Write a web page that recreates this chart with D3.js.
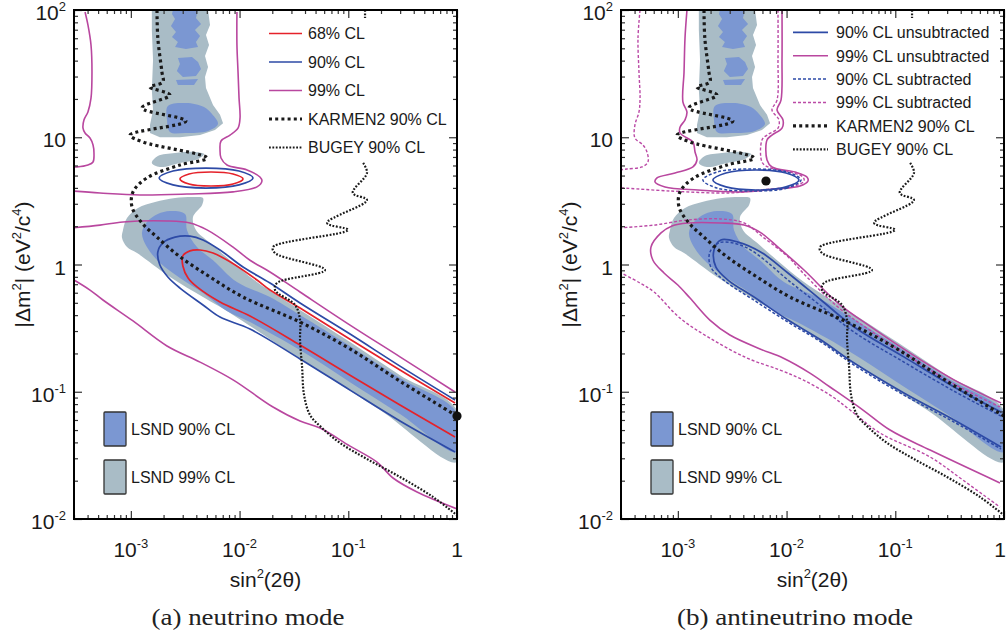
<!DOCTYPE html>
<html>
<head>
<meta charset="utf-8">
<script src="https://cdn.jsdelivr.net/npm/d3@7"></script>
<style>
  body { margin: 0; background: #fff; }
  svg { display: block; font-family: "Liberation Sans", Arial, sans-serif; }
</style>
</head>
<body>
<svg id="chart" width="1007" height="641"></svg>
<script>
// axes
const xDomain = [3e-4, 1];
const yDomain = [1e-2, 1e2];
const xTicks = [1e-3, 1e-2, 1e-1, 1];
const yTicks = [1e-2, 1e-1, 1, 10, 100];
const xTickLabels = [["10", "-3"], ["10", "-2"], ["10", "-1"], ["1", ""]];
const yTickLabels = [["10", "-2"], ["10", "-1"], ["1", ""], ["10", ""], ["10", "2"]];

// LSND allowed regions  [sin^2(2theta), dm^2]
const lsnd99Upper = [[1.56e-3,100],[5.13e-3,100],[5.35e-3,76.3],[4.91e-3,63.6],[5.24e-3,53.1],[4.81e-3,43.5],[5.13e-3,35.6],[4.81e-3,29.7],[4.91e-3,24.4],[5.70e-3,17.9],[6.61e-3,15.0],[7.05e-3,12.9],[5.94e-3,11.4],[4.33e-3,10.4],[2.83e-3,10.0],[1.85e-3,10.0],[1.50e-3,10.8],[1.50e-3,12.5],[1.60e-3,16.4],[1.56e-3,23.5],[1.60e-3,40.5],[1.56e-3,69.7]];
const lsnd99Blob = [[1.56e-3,6.28],[1.77e-3,7.12],[2.55e-3,7.52],[3.89e-3,7.66],[4.71e-3,7.38],[4.15e-3,6.75],[2.83e-3,6.28],[1.85e-3,5.84]];
const lsnd99Lower = [[8.47e-4,1.87],[9.22e-4,2.32],[1.164e-3,2.78],[1.67e-3,3.10],[2.55e-3,3.33],[3.89e-3,3.39],[4.61e-3,3.33],[4.52e-3,2.94],[3.73e-3,2.36],[3.97e-3,1.87],[5.35e-3,1.48],[8.17e-3,1.08],[0.01446,0.728],[0.036,0.439],[0.1038,0.246],[0.299,0.135],[1.0,0.0718],[1.0,0.028],[0.196,0.0718],[0.036,0.181],[8.17e-3,0.416],[4.61e-3,0.555],[2.29e-3,0.798],[1.14e-3,1.23],[9.22e-4,1.37],[8.29e-4,1.62]];
const lsnd90Top = [[2.44e-3,100],[4.15e-3,100],[3.97e-3,86.5],[4.42e-3,77.6],[3.89e-3,69.7],[4.33e-3,62.5],[3.97e-3,56.1],[4.15e-3,51.2],[3.21e-3,49.3],[2.55e-3,51.2],[2.71e-3,56.1],[2.39e-3,61.4],[2.60e-3,67.1],[2.34e-3,74.8],[2.55e-3,84.9],[2.39e-3,93.0]];
const lsnd90Mid = [[2.71e-3,42.0],[3.65e-3,42.7],[4.15e-3,39.0],[4.42e-3,34.4],[3.97e-3,30.3],[3.01e-3,29.7],[2.65e-3,33.2],[2.83e-3,37.7]];
const lsnd90Mid2 = [[2.60e-3,28.2],[4.15e-3,28.7],[3.81e-3,25.7],[2.71e-3,25.7]];
const lsnd90Upper = [[2.19e-3,17.6],[3.21e-3,18.6],[4.71e-3,17.3],[5.58e-3,15.2],[6.33e-3,12.7],[5.13e-3,11.2],[3.15e-3,10.8],[2.29e-3,11.0],[2.15e-3,13.7]];
const lsnd90Lower = [[1.406e-3,2.16],[1.77e-3,2.49],[2.29e-3,2.63],[3.15e-3,2.49],[3.28e-3,1.87],[4.06e-3,1.37],[5.70e-3,1.08],[9.46e-3,0.728],[0.01905,0.555],[0.036,0.401],[0.1038,0.229],[0.299,0.128],[1.0,0.0681],[1.0,0.0336],[0.299,0.0668],[0.1038,0.119],[0.036,0.213],[0.01247,0.353],[7.66e-3,0.431],[4.61e-3,0.597],[2.83e-3,0.783],[1.85e-3,1.03],[1.406e-3,1.37],[1.265e-3,1.77]];

// other experiments
const karmen = [[1.74e-3,100],[1.77e-3,60.3],[1.93e-3,32.6],[1.97e-3,27.2],[1.50e-3,24.8],[2.29e-3,21.5],[1.265e-3,17.0],[3.21e-3,13.4],[9.82e-4,10.4],[1.294e-3,9.18],[5.02e-3,6.87],[2.83e-3,6.05],[1.406e-3,4.79],[1.047e-3,3.72],[1.025e-3,2.83],[1.265e-3,2.12],[1.74e-3,1.64],[2.83e-3,1.15],[5.35e-3,0.798],[0.01076,0.555],[0.036,0.353],[0.1038,0.217],[0.299,0.121],[1.0,0.0644]];
const bugey = [[0.137,6.28],[0.1486,5.24],[0.110,3.65],[0.1486,3.21],[0.0638,2.12],[0.0995,1.87],[0.0203,1.37],[0.0212,1.23],[0.0611,0.905],[0.0221,0.715],[0.0212,0.630],[0.0324,0.481],[0.036,0.366],[0.036,0.255],[0.0376,0.156],[0.0392,0.0942],[0.0445,0.0656],[0.0574,0.0519],[0.084,0.0396],[0.1486,0.0296],[0.299,0.0214],[0.601,0.0149],[1.0,0.0107]];
const bugeyTop = [[0.1426,100],[0.1426,86.5]];

// (a) neutrino mode contours
const nu68Ellipse = [[0.01076,4.70],[8.71e-3,4.29],[5.46e-3,4.14],[3.43e-3,4.29],[2.83e-3,4.70],[3.43e-3,5.14],[5.46e-3,5.33],[8.71e-3,5.14]];
const nu68Band = [[0.959,0.0815],[0.299,0.148],[0.1038,0.259],[0.036,0.455],[0.01905,0.630],[0.01446,0.755],[8.17e-3,1.05],[5.70e-3,1.23],[4.33e-3,1.30],[3.50e-3,1.28],[3.01e-3,1.17],[3.01e-3,0.973],[3.36e-3,0.783],[4.06e-3,0.666],[6.61e-3,0.507],[0.01247,0.394],[0.036,0.233],[0.1038,0.135],[0.299,0.0787],[0.959,0.0441]];
const nu90Ellipse = [[0.0133,4.79],[9.89e-3,4.22],[4.91e-3,3.99],[2.44e-3,4.22],[1.82e-3,4.79],[2.44e-3,5.43],[4.91e-3,5.73],[9.89e-3,5.43]];
const nu90Band = [[0.959,0.0861],[0.299,0.159],[0.1038,0.284],[0.036,0.498],[0.01905,0.715],[0.01076,0.955],[6.61e-3,1.30],[4.61e-3,1.56],[3.50e-3,1.67],[2.55e-3,1.64],[1.97e-3,1.48],[1.77e-3,1.25],[1.85e-3,0.991],[2.19e-3,0.798],[2.83e-3,0.653],[4.61e-3,0.481],[6.61e-3,0.386],[0.01247,0.311],[0.036,0.181],[0.1038,0.103],[0.299,0.0589],[0.959,0.0336]];
const nu99Left = [[3.79e-4,96.4],[4.03e-4,76.3],[4.30e-4,53.1],[4.39e-4,32.6],[4.30e-4,20.3],[4.03e-4,15.8],[3.71e-4,13.7],[3.63e-4,11.8],[3.79e-4,10.8],[4.21e-4,9.86],[4.49e-4,8.69],[4.58e-4,7.52],[4.49e-4,6.39],[4.03e-4,6.05],[3.2e-4,5.84],[2.9e-4,5.84]];
const nu99Upper = [[9.46e-3,96.4],[9.46e-3,53.1],[9.68e-3,32.6],[9.89e-3,20.3],[0.0101,14.2],[9.68e-3,11.8],[8.17e-3,10.4],[6.75e-3,9.34],[6.61e-3,7.94],[6.75e-3,6.87],[7.66e-3,6.05],[0.01172,5.53],[0.0154,4.87],[0.01607,4.53],[0.01446,4.07],[8.71e-3,3.72],[3.28e-3,3.58],[1.213e-3,3.52],[5.2e-4,3.65],[2.9e-4,3.78]];
const nu99Band = [[2.9e-4,1.94],[5.2e-4,2.04],[8.47e-4,2.16],[2.15e-3,2.20],[3.50e-3,2.12],[5.02e-3,1.87],[8.71e-3,1.37],[0.01247,1.08],[0.01905,0.873],[0.036,0.608],[0.1038,0.334],[0.299,0.188],[0.959,0.0995]];
const nu99Low = [[2.9e-4,0.769],[4.21e-4,0.630],[5.54e-4,0.526],[1.047e-3,0.360],[2.15e-3,0.229],[4.33e-3,0.171],[8.71e-3,0.124],[0.0203,0.0759],[0.036,0.0589],[0.055,0.0519],[0.1038,0.0374],[0.1837,0.028],[0.258,0.021],[0.429,0.0163],[1.0,0.012]];
const nuBestFit = [1.0, 0.0644];

// (b) antineutrino mode contours
const nub90Ellipse = [[0.0130,4.61],[9.89e-3,4.07],[5.24e-3,3.85],[2.77e-3,4.07],[2.10e-3,4.61],[2.77e-3,5.24],[5.24e-3,5.53],[9.89e-3,5.24]];
const nub90Band = [[0.939,0.0693],[0.347,0.109],[0.120,0.188],[0.0418,0.323],[0.02075,0.526],[0.0103,0.857],[5.82e-3,1.25],[3.57e-3,1.50],[2.49e-3,1.56],[2.15e-3,1.30],[2.24e-3,0.955],[2.89e-3,0.755],[5.02e-3,0.555],[0.0103,0.366],[0.02075,0.255],[0.0418,0.168],[0.120,0.0977],[0.347,0.060],[0.939,0.0368]];
const nub90SubEllipse = [[0.01358,4.61],[0.0101,3.99],[4.81e-3,3.78],[2.29e-3,3.99],[1.70e-3,4.61],[2.29e-3,5.33],[4.81e-3,5.63],[0.0101,5.33]];
const nub90SubBand = [[0.939,0.0644],[0.347,0.101],[0.120,0.171],[0.0418,0.294],[0.02075,0.472],[0.0103,0.755],[6.33e-3,1.08],[4.33e-3,1.35],[3.15e-3,1.48],[2.39e-3,1.48],[1.97e-3,1.25],[2.01e-3,0.955],[2.71e-3,0.741],[4.81e-3,0.536],[0.0103,0.353],[0.02075,0.246],[0.0418,0.162],[0.120,0.0942],[0.347,0.0578],[0.939,0.0355]];
const nub99Upper = [[1.213e-3,100],[1.164e-3,60.3],[1.14e-3,32.6],[1.114e-3,18.9],[1.213e-3,15.8],[1.164e-3,13.7],[1.047e-3,12.0],[1.047e-3,10.8],[1.213e-3,9.86],[1.377e-3,9.18],[1.439e-3,7.66],[1.50e-3,6.63],[1.377e-3,5.84],[9.42e-4,5.24],[6.43e-4,4.79],[6.17e-4,4.45],[7.62e-4,4.07],[1.53e-3,3.85],[3.89e-3,3.72],[7.83e-3,3.92],[0.0133,4.14],[0.01574,4.53],[0.0154,4.87],[0.01197,5.33],[7.34e-3,5.84],[6.61e-3,6.63],[6.61e-3,9.51],[7.34e-3,10.4],[9.08e-3,11.8],[9.27e-3,13.7],[8.17e-3,16.4],[8.89e-3,19.6],[9.08e-3,40.5],[9.08e-3,100]];
const nub99Band = [[0.939,0.0815],[0.347,0.124],[0.1726,0.177],[0.0598,0.323],[0.0297,0.498],[0.01446,0.905],[8.34e-3,1.37],[5.82e-3,1.77],[4.06e-3,2.04],[2.49e-3,2.12],[1.239e-3,2.12],[8.83e-4,2.01],[7.0e-4,1.77],[5.66e-4,1.37],[5.90e-4,1.08],[7.46e-4,0.857],[1.0e-3,0.690],[1.294e-3,0.545],[1.97e-3,0.366],[3.01e-3,0.279],[5.70e-3,0.217],[9.27e-3,0.184],[0.0164,0.140],[0.0251,0.109],[0.0505,0.0718],[0.0895,0.050],[0.209,0.0348],[0.918,0.0192]];
const nub99SubLeft = [[4.49e-4,100],[4.30e-4,60.3],[4.39e-4,32.6],[4.49e-4,20.3],[4.39e-4,15.8],[4.03e-4,12.5],[4.03e-4,9.86],[4.78e-4,8.69],[5.2e-4,7.66],[5.31e-4,6.39],[4.68e-4,5.84],[3.4e-4,5.63],[2.9e-4,5.53]];
const nub99SubUpper = [[8.34e-3,100],[8.34e-3,40.5],[8.17e-3,19.6],[7.34e-3,16.4],[8.51e-3,13.7],[8.34e-3,11.8],[6.61e-3,10.4],[5.94e-3,9.51],[5.94e-3,6.39],[6.75e-3,5.84],[0.01076,5.33],[0.01416,4.87],[0.01446,4.53],[0.01197,4.14],[5.70e-3,3.85],[3.01e-3,3.65],[8.47e-4,3.78],[3.13e-4,3.99],[2.9e-4,3.99]];
const nub99SubBand = [[2.9e-4,1.94],[6.04e-4,2.04],[1.239e-3,2.24],[2.49e-3,2.28],[4.06e-3,2.12],[6.19e-3,1.62],[0.0103,1.15],[0.01446,0.842],[0.0297,0.463],[0.0598,0.300],[0.1726,0.165],[0.347,0.115],[0.918,0.0759]];
const nub99SubLow = [[2.9e-4,0.873],[4.49e-4,0.715],[6.04e-4,0.608],[1.047e-3,0.379],[1.97e-3,0.264],[4.33e-3,0.184],[8.71e-3,0.148],[0.01416,0.124],[0.0251,0.0942],[0.0384,0.0718],[0.0724,0.0474],[0.209,0.0307],[0.420,0.0202],[0.918,0.0124]];
const nubBestFit = [6.47e-3, 4.53];

// legend texts
const nuLegendLabels = ["68% CL", "90% CL", "99% CL", "KARMEN2 90% CL", "BUGEY 90% CL"];
const nubLegendLabels = ["90% CL unsubtracted", "99% CL unsubtracted", "90% CL subtracted", "99% CL subtracted", "KARMEN2 90% CL", "BUGEY 90% CL"];
const lsndLegendLabels = ["LSND 90% CL", "LSND 99% CL"];

const fill90 = "#7b97d2", fill99 = "#a9bcc6";
const S = {
  red: { stroke: "#e5222a", width: 1.7 },
  blue: { stroke: "#2d4aa6", width: 1.7 },
  magenta: { stroke: "#b9479f", width: 1.6 },
  blueDash: { stroke: "#2d4aa6", width: 1.5, dash: "3,2" },
  magentaDash: { stroke: "#bb4aa6", width: 1.4, dash: "3,2" },
  karmen: { stroke: "#1a1a1a", width: 3.2, dash: "3,3.2" },
  bugey: { stroke: "#1a1a1a", width: 2.2, dash: "1.8,1.6" }
};

const plotTop = 10, plotBottom = 519, plotW = 383;

const panels = [
  {
    left: 74, caption: "(a) neutrino mode", capX: 248, capW: 193,
    lines: [
      [nu99Left, "magenta"], [nu99Upper, "magenta"], [nu99Band, "magenta"], [nu99Low, "magenta"],
      [nu90Ellipse, "blue", true], [nu90Band, "blue"],
      [nu68Ellipse, "red", true], [nu68Band, "red"],
      [bugey, "bugey"], [bugeyTop, "bugey"], [karmen, "karmen"]
    ],
    best: nuBestFit,
    legend: { labels: nuLegendLabels, styles: ["red", "blue", "magenta", "karmen", "bugey"], y0: 33.5, dy: 28.5, s0: 269, s1: 302, tx: 308 }
  },
  {
    left: 621, caption: "(b) antineutrino mode", capX: 795, capW: 236,
    lines: [
      [nub99SubLeft, "magentaDash"], [nub99SubUpper, "magentaDash"], [nub99SubBand, "magentaDash"], [nub99SubLow, "magentaDash"],
      [nub99Upper, "magenta"], [nub99Band, "magenta"],
      [nub90SubEllipse, "blueDash", true], [nub90SubBand, "blueDash"],
      [nub90Ellipse, "blue", true], [nub90Band, "blue"],
      [bugey, "bugey"], [bugeyTop, "bugey"], [karmen, "karmen"]
    ],
    best: nubBestFit,
    legend: { labels: nubLegendLabels, styles: ["blue", "magenta", "blueDash", "magentaDash", "karmen", "bugey"], y0: 32.3, dy: 23.4, s0: 793, s1: 828, tx: 836 }
  }
];

const svg = d3.select("#chart");
const defs = svg.append("defs");

function styleLine(sel, name) {
  const s = S[name];
  sel.attr("fill", "none").attr("stroke", s.stroke).attr("stroke-width", s.width)
    .attr("stroke-dasharray", s.dash || null);
}

function superText(sel, parts) {
  // parts: [base, sup, base, sup, ...]
  parts.forEach((t, k) => {
    if (!t) return;
    const sp = sel.append("tspan").text(t);
    if (k % 2 === 1) sp.attr("font-size", 13).attr("dy", -9);
    else if (k > 0 && parts[k - 1]) sp.attr("dy", 9);
  });
}

panels.forEach((p, i) => {
  const x = d3.scaleLog().domain(xDomain).range([p.left, p.left + plotW]);
  const y = d3.scaleLog().domain(yDomain).range([plotBottom, plotTop]);
  const g = svg.append("g");

  const clipId = "clip" + i;
  defs.append("clipPath").attr("id", clipId).append("rect")
    .attr("x", p.left).attr("y", plotTop).attr("width", plotW).attr("height", plotBottom - plotTop);
  const plot = g.append("g").attr("clip-path", `url(#${clipId})`);

  const smooth = d3.line().x(d => x(d[0])).y(d => y(d[1])).curve(d3.curveCatmullRom.alpha(0.5));
  const smoothClosed = d3.line().x(d => x(d[0])).y(d => y(d[1])).curve(d3.curveCatmullRomClosed.alpha(0.5));
  const jagged = d3.line().x(d => x(d[0])).y(d => y(d[1])).curve(d3.curveLinearClosed);

  // LSND fills
  plot.append("path").attr("d", jagged(lsnd99Upper)).attr("fill", fill99);
  plot.append("path").attr("d", smoothClosed(lsnd99Blob)).attr("fill", fill99);
  plot.append("path").attr("d", smoothClosed(lsnd99Lower)).attr("fill", fill99);
  [lsnd90Top, lsnd90Mid, lsnd90Mid2].forEach(a => plot.append("path").attr("d", jagged(a)).attr("fill", fill90));
  plot.append("path").attr("d", smoothClosed(lsnd90Upper)).attr("fill", fill90);
  plot.append("path").attr("d", smoothClosed(lsnd90Lower)).attr("fill", fill90);

  // contours and limits
  p.lines.forEach(([data, st, closed]) => {
    plot.append("path").attr("d", closed ? smoothClosed(data) : smooth(data)).call(styleLine, st);
  });

  // ticks (inward)
  const xMinor = [], yMinor = [];
  for (let e = -4; e < 0; e++) for (let k = 2; k <= 9; k++) {
    const v = k * Math.pow(10, e);
    if (v >= xDomain[0] && v < 1) xMinor.push(v);
  }
  for (let e = -2; e < 2; e++) for (let k = 2; k <= 9; k++) yMinor.push(k * Math.pow(10, e));

  const axes = g.append("g").attr("color", "#333");
  const addAxis = (axis, tr) => {
    const a = axes.append("g").attr("transform", tr).call(axis);
    a.select(".domain").remove();
    a.selectAll("line").attr("stroke-width", 1.2);
  };
  addAxis(d3.axisTop(x).tickValues(xTicks).tickSize(8).tickFormat(""), `translate(0,${plotBottom})`);
  addAxis(d3.axisTop(x).tickValues(xMinor).tickSize(4).tickFormat(""), `translate(0,${plotBottom})`);
  addAxis(d3.axisBottom(x).tickValues(xTicks).tickSize(8).tickFormat(""), `translate(0,${plotTop})`);
  addAxis(d3.axisBottom(x).tickValues(xMinor).tickSize(4).tickFormat(""), `translate(0,${plotTop})`);
  addAxis(d3.axisRight(y).tickValues(yTicks).tickSize(8).tickFormat(""), `translate(${p.left},0)`);
  addAxis(d3.axisRight(y).tickValues(yMinor).tickSize(4).tickFormat(""), `translate(${p.left},0)`);
  addAxis(d3.axisLeft(y).tickValues(yTicks).tickSize(8).tickFormat(""), `translate(${p.left + plotW},0)`);
  addAxis(d3.axisLeft(y).tickValues(yMinor).tickSize(4).tickFormat(""), `translate(${p.left + plotW},0)`);

  // frame
  g.append("rect").attr("x", p.left).attr("y", plotTop).attr("width", plotW).attr("height", plotBottom - plotTop)
    .attr("fill", "none").attr("stroke", "#000").attr("stroke-width", 2);

  // best fit point
  g.append("circle").attr("cx", x(p.best[0])).attr("cy", y(p.best[1])).attr("r", 4.6).attr("fill", "#111");

  // tick labels
  xTicks.forEach((v, j) => {
    const px = x(v);
    const t = g.append("text").attr("x", px > 1000 ? 1006 : px).attr("y", 557)
      .attr("text-anchor", px > 1000 ? "end" : "middle")
      .attr("font-size", 21).attr("fill", "#1a1a1a");
    superText(t, xTickLabels[j]);
  });
  yTicks.forEach((v, j) => {
    const t = g.append("text").attr("x", p.left - 8).attr("y", y(v) + 10).attr("text-anchor", "end")
      .attr("font-size", 21).attr("fill", "#1a1a1a");
    superText(t, yTickLabels[j]);
  });

  // axis titles
  const xt = g.append("text").attr("x", p.left + plotW / 2).attr("y", 587).attr("text-anchor", "middle")
    .attr("font-size", 21).attr("fill", "#1a1a1a");
  superText(xt, ["sin", "2", "(2θ)"]);
  const yt = g.append("text")
    .attr("transform", `translate(${p.left - 44},${(plotTop + plotBottom) / 2}) rotate(-90)`)
    .attr("text-anchor", "middle").attr("font-size", 21).attr("fill", "#1a1a1a");
  superText(yt, ["|Δm", "2", "| (eV", "2", "/c", "4", ")"]);

  // caption
  g.append("text").attr("x", p.capX).attr("y", 625).attr("text-anchor", "middle")
    .attr("font-family", "'Liberation Serif', serif").attr("font-size", 22.5).attr("fill", "#222")
    .attr("textLength", p.capW).attr("lengthAdjust", "spacingAndGlyphs")
    .text(p.caption);

  // line legend
  const L = p.legend;
  L.labels.forEach((lab, j) => {
    const yy = L.y0 + j * L.dy;
    g.append("line").attr("x1", L.s0).attr("x2", L.s1).attr("y1", yy).attr("y2", yy).call(styleLine, L.styles[j]);
    g.append("text").attr("x", L.tx).attr("y", yy + 5.8).attr("font-size", 16).attr("fill", "#1a1a1a").text(lab);
  });

  // LSND legend
  const boxX = p.left + 30;
  [[412, fill90], [460, fill99]].forEach(([by, col], j) => {
    g.append("rect").attr("x", boxX).attr("y", by).attr("width", 22).attr("height", 34).attr("rx", 1)
      .attr("fill", col).attr("stroke", "#333").attr("stroke-width", 1.3);
    g.append("text").attr("x", boxX + 27).attr("y", by + 23).attr("font-size", 16).attr("fill", "#1a1a1a")
      .text(lsndLegendLabels[j]);
  });
});
</script>
</body>
</html>
